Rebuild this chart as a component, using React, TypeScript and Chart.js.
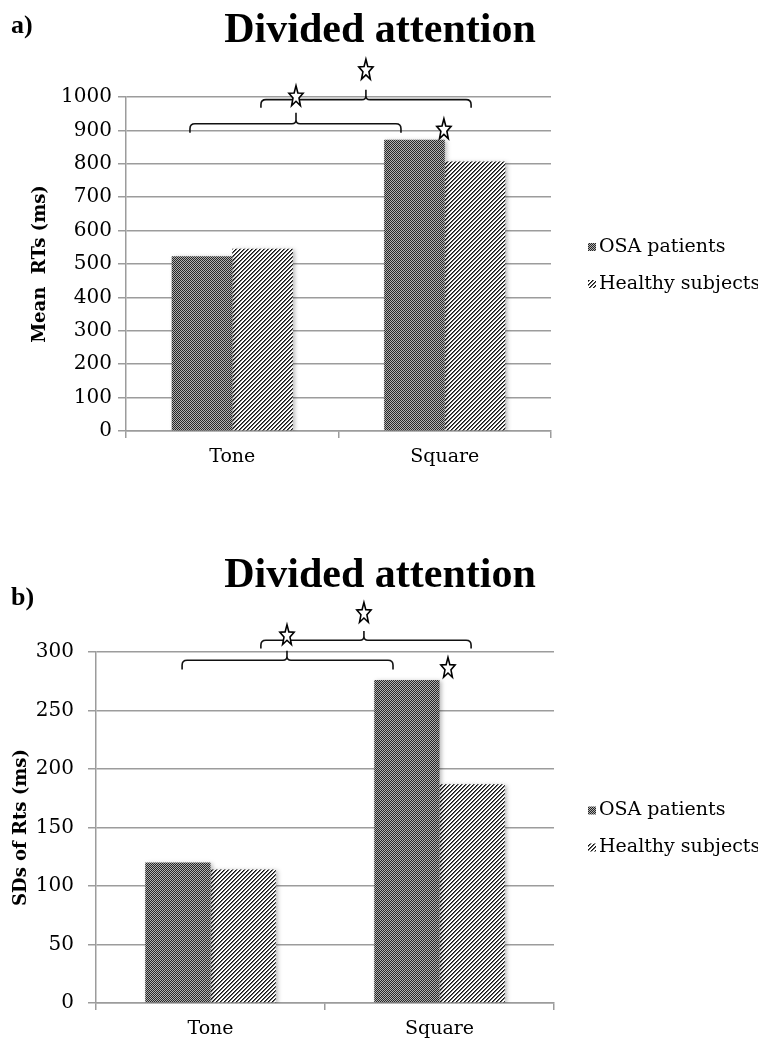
import React, { useEffect, useRef } from 'react';
import { Chart, registerables } from 'chart.js';

Chart.register(...registerables);

// ---------- data ----------
const categories = ['Tone', 'Square'];
const seriesNames = ['OSA patients', 'Healthy subjects'];
const chartTitle = 'Divided attention';

const meanOSA = [523, 872];
const meanHealthy = [546, 807];
const meanAxis = [0, 1000, 100]; // min, max, step

const sdOSA = [120, 276];
const sdHealthy = [114, 187];
const sdAxis = [0, 300, 50];

// significance brackets: [xStart, xMid, xEnd] in category units, [yEnds, yLine, ySpike] in value units
const meanBracketX = [[-0.199, 0.3, 0.794], [0.135, 0.629, 1.124]];
const meanBracketY = [[893, 920, 953], [968, 992, 1022]];
const meanStars = [[0.3, 1001], [0.629, 1080], [0.996, 902]];

const sdBracketX = [[-0.124, 0.334, 0.797], [0.22, 0.67, 1.138]];
const sdBracketY = [[285, 293, 301], [303, 310, 318]];
const sdStars = [[0.334, 314], [0.67, 333], [1.037, 286]];

// ---------- drawing helpers ----------
function makeChecker(ctx: CanvasRenderingContext2D) {
  const c = document.createElement('canvas');
  c.width = 2; c.height = 2;
  const g = c.getContext('2d')!;
  g.fillStyle = '#b0b0b0'; g.fillRect(0, 0, 2, 2);
  g.fillStyle = '#262626'; g.fillRect(0, 0, 1, 1); g.fillRect(1, 1, 1, 1);
  return ctx.createPattern(c, 'repeat')!;
}

function makeStripes(ctx: CanvasRenderingContext2D) {
  const n = 4;
  const c = document.createElement('canvas');
  c.width = n; c.height = n;
  const g = c.getContext('2d')!;
  g.fillStyle = '#fff'; g.fillRect(0, 0, n, n);
  for (let x = 0; x < n; x++) {
    for (let y = 0; y < n; y++) {
      const k = (x + y) % n;
      if (k === 0) { g.fillStyle = '#111'; g.fillRect(x, y, 1, 1); }
      else if (k === 1) { g.fillStyle = '#666'; g.fillRect(x, y, 1, 1); }
    }
  }
  return ctx.createPattern(c, 'repeat')!;
}

function drawStar(ctx: CanvasRenderingContext2D, cx: number, cy: number) {
  const rx = 7.5, ry = 11, inner = 0.42;
  ctx.beginPath();
  for (let k = 0; k < 10; k++) {
    const a = -Math.PI / 2 + (k * Math.PI) / 5;
    const r = k % 2 === 0 ? 1 : inner;
    const x = cx + Math.cos(a) * rx * r;
    const y = cy + Math.sin(a) * ry * r;
    if (k === 0) ctx.moveTo(x, y); else ctx.lineTo(x, y);
  }
  ctx.closePath();
  ctx.fillStyle = '#fff';
  ctx.fill();
  ctx.lineWidth = 1.6;
  ctx.strokeStyle = '#000';
  ctx.stroke();
}

function drawBracket(ctx: CanvasRenderingContext2D, x1: number, xm: number, x2: number, yEnd: number, y: number, yTop: number) {
  const r = 5, rs = 4;
  ctx.beginPath();
  ctx.moveTo(x1, yEnd);
  ctx.lineTo(x1, y + r);
  ctx.quadraticCurveTo(x1, y, x1 + r, y);
  ctx.lineTo(xm - rs, y);
  ctx.quadraticCurveTo(xm, y, xm, y - rs);
  ctx.lineTo(xm, yTop);
  ctx.moveTo(xm, y - rs);
  ctx.quadraticCurveTo(xm, y, xm + rs, y);
  ctx.lineTo(x2 - r, y);
  ctx.quadraticCurveTo(x2, y, x2, y + r);
  ctx.lineTo(x2, yEnd);
  ctx.lineWidth = 1.6;
  ctx.strokeStyle = '#111';
  ctx.stroke();
}

type PanelProps = {
  top: number;
  height: number;
  tag: string;
  tagY: number;
  yTitle: string;
  yTitlePad: number;
  osa: number[];
  healthy: number[];
  axis: number[];
  areaLeft: number;
  areaRight: number;
  areaTop: number;
  areaBottom: number;
  yTickPad: number;
  bracketX: number[][];
  bracketY: number[][];
  stars: number[][];
};

const GRID = '#9c9c9c';

function Panel(p: PanelProps) {
  const ref = useRef<HTMLCanvasElement | null>(null);

  useEffect(() => {
    const canvas = ref.current!;
    const ctx = canvas.getContext('2d')!;
    const checker = makeChecker(ctx);
    const stripes = makeStripes(ctx);
    const W = 758;

    const decorations = {
      id: 'decorations',
      beforeDatasetsDraw(chart: any) {
        const c = chart.ctx;
        c.save();
        c.shadowColor = 'rgba(0,0,0,0.28)';
        c.shadowBlur = 4;
        c.shadowOffsetX = 2;
        c.shadowOffsetY = 1;
      },
      afterDatasetsDraw(chart: any) {
        const c = chart.ctx;
        c.restore();
        const xs = chart.scales.x;
        const ys = chart.scales.y;
        c.save();
        p.bracketX.forEach((bx, i) => {
          const by = p.bracketY[i];
          drawBracket(
            c,
            xs.getPixelForValue(bx[0]),
            xs.getPixelForValue(bx[1]),
            xs.getPixelForValue(bx[2]),
            ys.getPixelForValue(by[0]),
            ys.getPixelForValue(by[1]),
            ys.getPixelForValue(by[2])
          );
        });
        p.stars.forEach((s) => drawStar(c, xs.getPixelForValue(s[0]), ys.getPixelForValue(s[1])));
        c.restore();
      },
      afterDraw(chart: any) {
        const c = chart.ctx;
        const area = chart.chartArea;
        c.save();
        c.fillStyle = '#000';
        c.textBaseline = 'middle';
        // title
        c.font = 'bold 42px "Liberation Serif"';
        c.textAlign = 'center';
        c.fillText(chartTitle, 380, 31);
        // panel tag
        c.font = 'bold 26px "Liberation Serif"';
        c.textAlign = 'left';
        c.fillText(p.tag, 11, p.tagY);
        // legend
        const cy = (area.top + area.bottom) / 2 + 1.5;
        chart.data.datasets.forEach((ds: any, i: number) => {
          const y = cy + (i - 0.5) * 37;
          c.fillStyle = ds.backgroundColor;
          c.fillRect(588, y - 4, 8, 8);
          c.fillStyle = '#000';
          c.font = '19px "DejaVu Serif"';
          c.textBaseline = 'middle';
          c.fillText(ds.label, 599, y);
        });
        c.restore();
      },
    };

    const chart = new Chart(ctx, {
      type: 'bar',
      data: {
        labels: categories,
        datasets: [
          { label: seriesNames[0], data: p.osa, backgroundColor: checker as any, borderWidth: 0 },
          { label: seriesNames[1], data: p.healthy, backgroundColor: stripes as any, borderWidth: 0 },
        ],
      },
      options: {
        animation: false,
        responsive: false,
        layout: { padding: { left: 0, right: W - p.areaRight, top: p.areaTop, bottom: 0 } },
        datasets: { bar: { categoryPercentage: 0.57, barPercentage: 1 } },
        plugins: {
          legend: { display: false },
          tooltip: { enabled: false },
          title: { display: false },
        },
        scales: {
          x: {
            grid: { drawOnChartArea: false, drawTicks: true, tickLength: 7, color: GRID, lineWidth: 1.5 },
            border: { color: GRID, width: 1.5 },
            ticks: { color: '#000', font: { family: 'DejaVu Serif', size: 19 }, padding: 8 },
            afterFit: (s: any) => { s.height = p.height - p.areaBottom; },
          },
          y: {
            min: p.axis[0],
            max: p.axis[1],
            ticks: {
              stepSize: p.axis[2],
              color: '#000',
              font: { family: 'DejaVu Serif', size: 20 },
              padding: p.yTickPad,
              callback: (v: any) => String(v),
            },
            grid: { color: GRID, lineWidth: 1.5, tickLength: 8 },
            border: { color: GRID, width: 1.5 },
            title: {
              display: true,
              text: p.yTitle,
              color: '#000',
              font: { family: 'DejaVu Serif', weight: 'bold', size: 18 },
              padding: { top: p.yTitlePad, bottom: 0 },
            },
            afterFit: (s: any) => { s.width = p.areaLeft; },
          },
        },
      } as any,
      plugins: [decorations],
    });
    return () => chart.destroy();
  }, []);

  return (
    <canvas
      ref={ref}
      width={758}
      height={p.height}
      style={{ position: 'absolute', left: 0, top: p.top, width: 758, height: p.height }}
    />
  );
}

export default function App() {
  return (
    <div style={{ position: 'absolute', left: 0, top: 0, width: 758, height: 1041, background: '#fff', overflow: 'hidden' }}>
      <Panel
        top={0}
        height={545}
        tag="a)"
        tagY={26}
        yTitle="Mean  RTs (ms)"
        yTitlePad={30}
        osa={meanOSA}
        healthy={meanHealthy}
        axis={meanAxis}
        areaLeft={126}
        areaRight={551}
        areaTop={97}
        areaBottom={431}
        yTickPad={6}
        bracketX={meanBracketX}
        bracketY={meanBracketY}
        stars={meanStars}
      />
      <Panel
        top={545}
        height={496}
        tag="b)"
        tagY={53}
        yTitle="SDs of Rts (ms)"
        yTitlePad={11}
        osa={sdOSA}
        healthy={sdHealthy}
        axis={sdAxis}
        areaLeft={96}
        areaRight={554}
        areaTop={107}
        areaBottom={458}
        yTickPad={14}
        bracketX={sdBracketX}
        bracketY={sdBracketY}
        stars={sdStars}
      />
    </div>
  );
}
